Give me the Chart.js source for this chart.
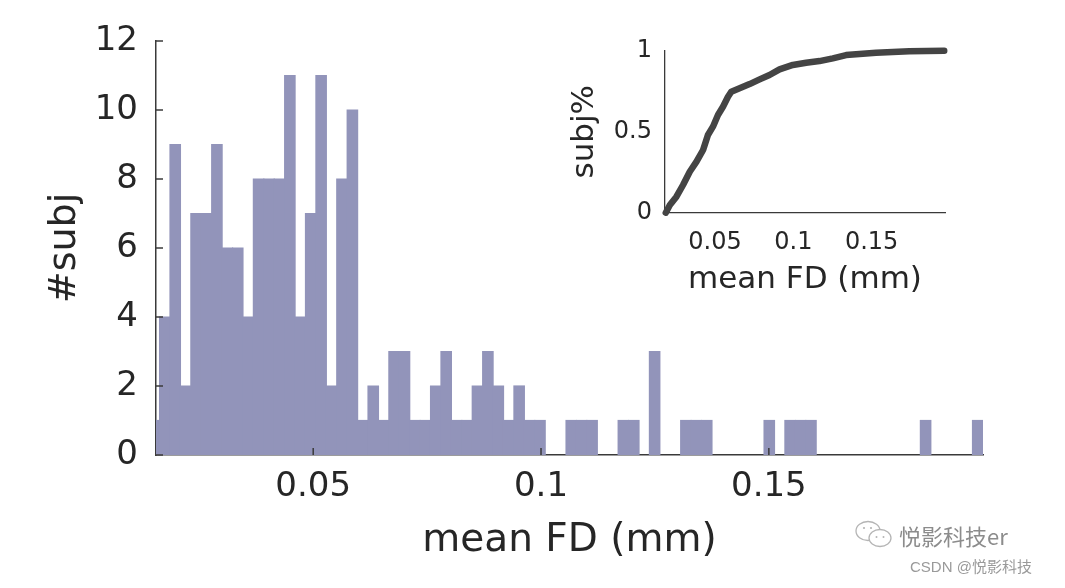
<!DOCTYPE html>
<html>
<head>
<meta charset="utf-8">
<script src="https://cdn.jsdelivr.net/npm/chart.js@4.4.1/dist/chart.umd.min.js"></script>
<style>
html,body{margin:0;padding:0;background:#fff;}
#wrap{position:relative;width:1065px;height:588px;overflow:hidden;background:#fff;}
#main{position:absolute;left:0;top:0;}
#inset{position:absolute;left:540px;top:10px;}
.wm1{position:absolute;left:899px;top:522px;font-size:22px;line-height:26px;font-family:"Noto Sans CJK SC","DejaVu Sans",sans-serif;color:#8c8c8c;letter-spacing:0px;}
.wm2{position:absolute;left:910px;top:557px;font-size:15px;line-height:20px;font-family:"Liberation Sans","Noto Sans CJK SC",sans-serif;color:#9a9a9a;}
#icon{position:absolute;left:853px;top:519px;}
</style>
</head>
<body>
<div id="wrap">
<canvas id="main" width="1065" height="588"></canvas>
<canvas id="inset" width="420" height="300"></canvas>
<svg id="icon" width="44" height="32" viewBox="0 0 44 32">
  <ellipse cx="15" cy="12" rx="12" ry="9.5" fill="none" stroke="#b5b5b5" stroke-width="1.3"/>
  <ellipse cx="27" cy="19" rx="11" ry="8.5" fill="#fff" stroke="#b5b5b5" stroke-width="1.3"/>
  <circle cx="11" cy="9" r="1.1" fill="#b5b5b5"/><circle cx="18" cy="9" r="1.1" fill="#b5b5b5"/>
  <circle cx="23.5" cy="18" r="1" fill="#b5b5b5"/><circle cx="30.5" cy="18" r="1" fill="#b5b5b5"/>
</svg>
<div class="wm1">悦影科技er</div>
<div class="wm2">CSDN @悦影科技</div>
</div>
<script>
// ---- Histogram data (counts per bin) ----
const binLeft = 0.01400;      // left edge of first (partly visible) bin
const binWidth = 0.0022873;   // bin width in mm
const counts = [
  1, 4, 9, 2, 7, 7, 9, 6, 6, 4,
  8, 8, 8, 11, 4, 7, 11, 2, 8, 10,
  1, 2, 1, 3, 3, 1, 1, 2, 3, 1,
  1, 2, 3, 2, 1, 2, 1, 1, 0, 0,
  1, 1, 1, 0, 0, 1, 1, 0, 3, 0,
  0, 1, 1, 1, 0, 0, 0, 0, 0, 1,
  0, 1, 1, 1, 0, 0, 0, 0, 0, 0,
  0, 0, 0, 0, 1, 0, 0, 0, 0, 1
];
const xMin = 0.0155, xMax = 0.197;
const xTicks = [0.05, 0.1, 0.15];
const xTickLabels = ['0.05', '0.1', '0.15'];
const yTicks = [0, 2, 4, 6, 8, 10, 12];

// ---- Inset cumulative curve ----
const cdfX = [0.0186, 0.0212, 0.0254, 0.0296, 0.0339, 0.0382, 0.0424, 0.0455, 0.0487, 0.0519,
              0.0551, 0.0583, 0.0604, 0.0657, 0.0721, 0.0785, 0.0848, 0.0912, 0.0997, 0.1082,
              0.1167, 0.1252, 0.1337, 0.1422, 0.1528, 0.1634, 0.1740, 0.1850, 0.1963];
const cdfY = [0.000, 0.047, 0.099, 0.171, 0.253, 0.315, 0.387, 0.480, 0.531, 0.603,
              0.654, 0.716, 0.747, 0.768, 0.794, 0.823, 0.850, 0.885, 0.912, 0.926,
              0.936, 0.953, 0.973, 0.980, 0.988, 0.992, 0.996, 0.998, 1.000];
const insetXTicks = [0.05, 0.1, 0.15];
const insetXLabels = ['0.05', '0.1', '0.15'];
const insetYTicks = [0, 0.5, 1];
const insetYLabels = ['0', '0.5', '1'];

const FONT = '"DejaVu Sans", "Liberation Sans", sans-serif';
const TXT = '#262626';
const AX = '#3a3a3a';

const innerTicks = {
  id: 'innerTicks',
  afterDraw(chart, args, opts) {
    const {ctx} = chart;
    const xs = chart.scales.x, ys = chart.scales.y;
    ctx.save();
    ctx.strokeStyle = opts.color;
    ctx.lineWidth = opts.width;
    xs.ticks.forEach(t => {
      const px = xs.getPixelForValue(t.value);
      ctx.beginPath(); ctx.moveTo(px, ys.bottom); ctx.lineTo(px, ys.bottom - opts.len); ctx.stroke();
    });
    ys.ticks.forEach(t => {
      const py = ys.getPixelForValue(t.value);
      ctx.beginPath(); ctx.moveTo(xs.left, py); ctx.lineTo(xs.left + opts.len, py); ctx.stroke();
    });
    ctx.restore();
  }
};

// empty bins are kept as points (so bar widths stay one bin wide) but not drawn
const histData = counts.map((c, i) => ({x: binLeft + (i + 0.5) * binWidth, y: c === 0 ? null : c}));

new Chart(document.getElementById('main'), {
  type: 'bar',
  data: {
    datasets: [{
      data: histData,
      backgroundColor: 'rgb(146,148,186)',
      borderWidth: 0,
      inflateAmount: 0.6,
      barPercentage: 1.0,
      categoryPercentage: 1.0
    }]
  },
  options: {
    responsive: false,
    animation: false,
    events: [],
    layout: {padding: {left: 0, right: 82, top: 41, bottom: 0}},
    plugins: {legend: {display: false}, tooltip: {enabled: false},
      innerTicks: {color: AX, width: 1.5, len: 7}},
    scales: {
      x: {
        type: 'linear', min: xMin, max: xMax, z: 1, offset: false,
        afterBuildTicks: s => { s.ticks = xTicks.map(v => ({value: v})); },
        afterFit: s => { s.height = 133; },
        grid: {display: false, drawTicks: false, offset: false},
        border: {display: true, color: AX, width: 1.5},
        ticks: {
          padding: 12, color: TXT, font: {family: FONT, size: 34},
          maxRotation: 0, autoSkip: false,
          callback: (v) => xTickLabels[xTicks.indexOf(v)]
        },
        title: {display: true, text: 'mean FD (mm)', color: TXT,
          font: {family: FONT, size: 39}, padding: {top: 0, bottom: 24}}
      },
      y: {
        min: 0, max: 12, z: 1,
        afterBuildTicks: s => { s.ticks = yTicks.map(v => ({value: v})); },
        afterFit: s => { s.width = 156; },
        grid: {display: false, drawTicks: false},
        border: {display: true, color: AX, width: 1.5},
        ticks: {padding: 18, color: TXT, font: {family: FONT, size: 34},
          callback: v => String(v)},
        title: {display: true, text: '#subj', color: TXT,
          font: {family: FONT, size: 38}, padding: {top: 42, bottom: 0}}
      }
    }
  },
  plugins: [innerTicks]
});

new Chart(document.getElementById('inset'), {
  type: 'line',
  data: {
    datasets: [{
      data: cdfX.map((x, i) => ({x: x, y: cdfY[i]})),
      borderColor: '#444444',
      borderWidth: 6.5,
      pointRadius: 0,
      tension: 0,
      borderJoinStyle: 'round',
      borderCapStyle: 'round',
      clip: false
    }]
  },
  options: {
    responsive: false,
    animation: false,
    events: [],
    layout: {padding: {left: 0, right: 15, top: 40.7, bottom: 0}},
    plugins: {legend: {display: false}, tooltip: {enabled: false}},
    scales: {
      x: {
        type: 'linear', min: 0.0181, max: 0.1968, offset: false,
        afterBuildTicks: s => { s.ticks = insetXTicks.map(v => ({value: v})); },
        afterFit: s => { s.height = 97.3; },
        grid: {display: false, drawTicks: false},
        border: {display: true, color: AX, width: 1.3},
        ticks: {padding: 16, color: TXT, font: {family: FONT, size: 24},
          maxRotation: 0, autoSkip: false,
          callback: v => insetXLabels[insetXTicks.indexOf(v)]},
        title: {display: true, text: 'mean FD (mm)', color: TXT,
          font: {family: FONT, size: 31}, padding: {top: 0, bottom: 11.4}}
      },
      y: {
        min: 0, max: 1,
        afterBuildTicks: s => { s.ticks = insetYTicks.map(v => ({value: v})); },
        afterFit: s => { s.width = 125; },
        grid: {display: false, drawTicks: false},
        border: {display: true, color: AX, width: 1.3},
        ticks: {padding: 13, color: TXT, font: {family: FONT, size: 24},
          callback: v => insetYLabels[insetYTicks.indexOf(v)]},
        title: {display: true, text: 'subj%', color: TXT,
          font: {family: FONT, size: 31}, padding: {top: 26.4, bottom: 0}}
      }
    }
  }
});
</script>
</body>
</html>
